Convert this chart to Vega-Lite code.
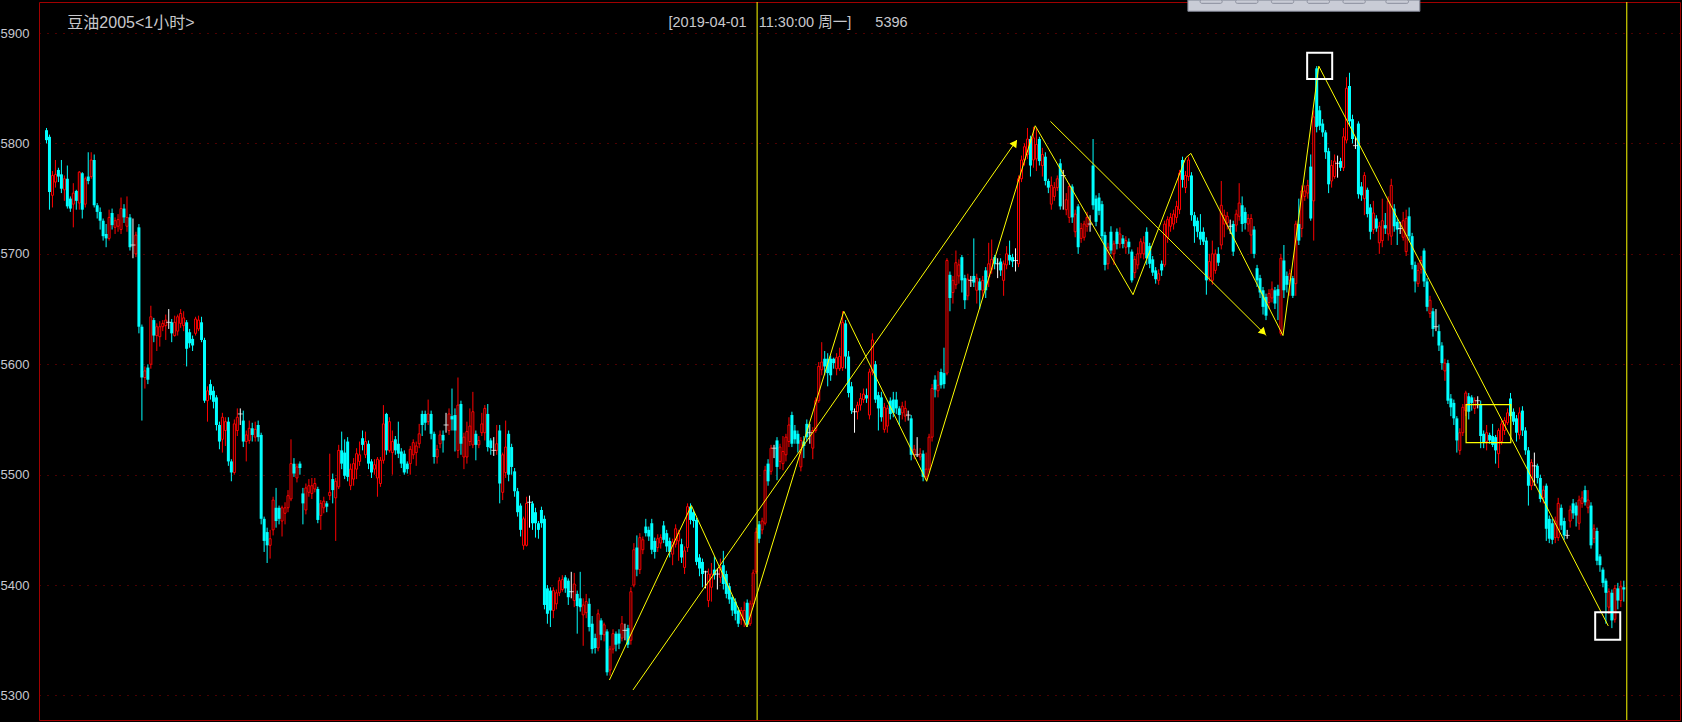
{
"$schema":"https://vega.github.io/schema/vega-lite/v6.json",
"width":1641,"height":718,
"autosize":{"type":"none"},
"padding":{"left":39,"top":2,"right":2,"bottom":2},
"background":"#000000",
"config":{"view":{"stroke":"#a00000","strokeWidth":1}},
"datasets":{
"k":[
{"i":0,"o":5812,"h":5814,"l":5800,"c":5803},{"i":1,"o":5806,"h":5808,"l":5740,"c":5756},{"i":2,"o":5753,"h":5775,"l":5742,"c":5771},{"i":3,"o":5765,"h":5785,"l":5760,"c":5772},{"i":4,"o":5776,"h":5778,"l":5765,"c":5770},{"i":5,"o":5772,"h":5785,"l":5755,"c":5759},{"i":6,"o":5758,"h":5771,"l":5748,"c":5768},{"i":7,"o":5768,"h":5780,"l":5741,"c":5743},{"i":8,"o":5750,"h":5752,"l":5738,"c":5741},{"i":9,"o":5745,"h":5764,"l":5724,"c":5755},
{"i":10,"o":5757,"h":5758,"l":5740,"c":5748},{"i":11,"o":5746,"h":5775,"l":5740,"c":5774},{"i":12,"o":5773,"h":5774,"l":5732,"c":5740},{"i":13,"o":5745,"h":5770,"l":5742,"c":5768},{"i":14,"o":5770,"h":5792,"l":5763,"c":5766},{"i":15,"o":5770,"h":5792,"l":5768,"c":5785},{"i":16,"o":5785,"h":5790,"l":5742,"c":5744},{"i":17,"o":5744,"h":5746,"l":5732,"c":5738},{"i":18,"o":5738,"h":5742,"l":5722,"c":5730},{"i":19,"o":5730,"h":5732,"l":5712,"c":5716},
{"i":20,"o":5718,"h":5727,"l":5706,"c":5714},{"i":21,"o":5714,"h":5740,"l":5712,"c":5733},{"i":22,"o":5737,"h":5741,"l":5722,"c":5726},{"i":23,"o":5724,"h":5733,"l":5718,"c":5730},{"i":24,"o":5725,"h":5736,"l":5720,"c":5731},{"i":25,"o":5722,"h":5751,"l":5718,"c":5741},{"i":26,"o":5741,"h":5745,"l":5728,"c":5733},{"i":27,"o":5725,"h":5752,"l":5720,"c":5733},{"i":28,"o":5733,"h":5736,"l":5703,"c":5706},{"i":29,"o":5708,"h":5732,"l":5696,"c":5708},
{"i":30,"o":5700,"h":5720,"l":5697,"c":5717},{"i":31,"o":5724,"h":5727,"l":5628,"c":5634},{"i":32,"o":5634,"h":5636,"l":5549,"c":5588},{"i":33,"o":5588,"h":5598,"l":5578,"c":5594},{"i":34,"o":5597,"h":5600,"l":5582,"c":5586},{"i":35,"o":5600,"h":5653,"l":5596,"c":5643},{"i":36,"o":5640,"h":5642,"l":5620,"c":5626},{"i":37,"o":5626,"h":5637,"l":5612,"c":5634},{"i":38,"o":5625,"h":5639,"l":5616,"c":5634},{"i":39,"o":5634,"h":5640,"l":5630,"c":5637},
{"i":40,"o":5635,"h":5645,"l":5622,"c":5640},{"i":41,"o":5638,"h":5650,"l":5632,"c":5638},{"i":42,"o":5638,"h":5641,"l":5620,"c":5628},{"i":43,"o":5626,"h":5644,"l":5625,"c":5638},{"i":44,"o":5630,"h":5645,"l":5626,"c":5643},{"i":45,"o":5637,"h":5650,"l":5633,"c":5646},{"i":46,"o":5635,"h":5648,"l":5630,"c":5642},{"i":47,"o":5638,"h":5640,"l":5598,"c":5614},{"i":48,"o":5629,"h":5632,"l":5615,"c":5619},{"i":49,"o":5623,"h":5626,"l":5612,"c":5617},
{"i":50,"o":5628,"h":5643,"l":5626,"c":5641},{"i":51,"o":5632,"h":5644,"l":5630,"c":5640},{"i":52,"o":5638,"h":5643,"l":5620,"c":5622},{"i":53,"o":5622,"h":5624,"l":5565,"c":5567},{"i":54,"o":5567,"h":5580,"l":5548,"c":5576},{"i":55,"o":5582,"h":5586,"l":5568,"c":5572},{"i":56,"o":5576,"h":5580,"l":5560,"c":5566},{"i":57,"o":5570,"h":5572,"l":5540,"c":5545},{"i":58,"o":5545,"h":5548,"l":5523,"c":5530},{"i":59,"o":5532,"h":5556,"l":5520,"c":5552},
{"i":60,"o":5540,"h":5552,"l":5526,"c":5548},{"i":61,"o":5548,"h":5552,"l":5508,"c":5512},{"i":62,"o":5512,"h":5514,"l":5494,"c":5502},{"i":63,"o":5502,"h":5550,"l":5500,"c":5546},{"i":64,"o":5540,"h":5560,"l":5535,"c":5552},{"i":65,"o":5555,"h":5560,"l":5545,"c":5555},{"i":66,"o":5549,"h":5558,"l":5525,"c":5530},{"i":67,"o":5530,"h":5540,"l":5512,"c":5536},{"i":68,"o":5531,"h":5549,"l":5528,"c":5542},{"i":69,"o":5542,"h":5547,"l":5530,"c":5536},
{"i":70,"o":5534,"h":5548,"l":5530,"c":5541},{"i":71,"o":5545,"h":5549,"l":5530,"c":5534},{"i":72,"o":5536,"h":5538,"l":5455,"c":5460},{"i":73,"o":5460,"h":5462,"l":5430,"c":5440},{"i":74,"o":5448,"h":5452,"l":5420,"c":5436},{"i":75,"o":5436,"h":5450,"l":5424,"c":5442},{"i":76,"o":5450,"h":5480,"l":5445,"c":5477},{"i":77,"o":5470,"h":5488,"l":5452,"c":5458},{"i":78,"o":5470,"h":5472,"l":5455,"c":5460},{"i":79,"o":5458,"h":5472,"l":5444,"c":5470},
{"i":80,"o":5465,"h":5475,"l":5455,"c":5470},{"i":81,"o":5470,"h":5486,"l":5466,"c":5481},{"i":82,"o":5478,"h":5532,"l":5476,"c":5510},{"i":83,"o":5510,"h":5515,"l":5498,"c":5501},{"i":84,"o":5497,"h":5510,"l":5493,"c":5507},{"i":85,"o":5510,"h":5512,"l":5500,"c":5506},{"i":86,"o":5483,"h":5488,"l":5455,"c":5474},{"i":87,"o":5468,"h":5492,"l":5464,"c":5488},{"i":88,"o":5484,"h":5496,"l":5480,"c":5490},{"i":89,"o":5483,"h":5497,"l":5478,"c":5490},
{"i":90,"o":5487,"h":5497,"l":5484,"c":5492},{"i":91,"o":5487,"h":5489,"l":5456,"c":5459},{"i":92,"o":5463,"h":5477,"l":5450,"c":5474},{"i":93,"o":5470,"h":5480,"l":5465,"c":5476},{"i":94,"o":5474,"h":5476,"l":5466,"c":5471},{"i":95,"o":5481,"h":5519,"l":5477,"c":5484},{"i":96,"o":5496,"h":5501,"l":5474,"c":5486},{"i":97,"o":5479,"h":5497,"l":5440,"c":5494},{"i":98,"o":5489,"h":5527,"l":5487,"c":5522},{"i":99,"o":5522,"h":5539,"l":5505,"c":5510},
{"i":100,"o":5520,"h":5532,"l":5496,"c":5499},{"i":101,"o":5530,"h":5534,"l":5494,"c":5498},{"i":102,"o":5490,"h":5510,"l":5486,"c":5505},{"i":103,"o":5496,"h":5515,"l":5490,"c":5510},{"i":104,"o":5505,"h":5524,"l":5496,"c":5519},{"i":105,"o":5512,"h":5530,"l":5508,"c":5518},{"i":106,"o":5533,"h":5540,"l":5522,"c":5527},{"i":107,"o":5518,"h":5539,"l":5515,"c":5530},{"i":108,"o":5528,"h":5531,"l":5505,"c":5510},{"i":109,"o":5512,"h":5514,"l":5497,"c":5502},
{"i":110,"o":5505,"h":5514,"l":5500,"c":5509},{"i":111,"o":5497,"h":5516,"l":5480,"c":5514},{"i":112,"o":5492,"h":5516,"l":5489,"c":5513},{"i":113,"o":5513,"h":5563,"l":5510,"c":5546},{"i":114,"o":5555,"h":5556,"l":5518,"c":5522},{"i":115,"o":5522,"h":5552,"l":5520,"c":5548},{"i":116,"o":5520,"h":5540,"l":5500,"c":5530},{"i":117,"o":5532,"h":5535,"l":5518,"c":5522},{"i":118,"o":5528,"h":5548,"l":5515,"c":5519},{"i":119,"o":5521,"h":5524,"l":5506,"c":5510},
{"i":120,"o":5519,"h":5522,"l":5500,"c":5502},{"i":121,"o":5510,"h":5512,"l":5501,"c":5505},{"i":122,"o":5510,"h":5526,"l":5500,"c":5523},{"i":123,"o":5518,"h":5532,"l":5514,"c":5529},{"i":124,"o":5520,"h":5530,"l":5508,"c":5526},{"i":125,"o":5528,"h":5546,"l":5524,"c":5537},{"i":126,"o":5555,"h":5558,"l":5535,"c":5545},{"i":127,"o":5555,"h":5558,"l":5540,"c":5547},{"i":128,"o":5548,"h":5568,"l":5545,"c":5555},{"i":129,"o":5555,"h":5558,"l":5532,"c":5537},
{"i":130,"o":5537,"h":5539,"l":5510,"c":5516},{"i":131,"o":5516,"h":5527,"l":5510,"c":5523},{"i":132,"o":5528,"h":5540,"l":5524,"c":5536},{"i":133,"o":5536,"h":5540,"l":5520,"c":5531},{"i":134,"o":5545,"h":5556,"l":5538,"c":5545},{"i":135,"o":5540,"h":5560,"l":5536,"c":5555},{"i":136,"o":5553,"h":5578,"l":5540,"c":5550},{"i":137,"o":5554,"h":5560,"l":5521,"c":5540},{"i":138,"o":5522,"h":5588,"l":5515,"c":5563},{"i":139,"o":5564,"h":5567,"l":5518,"c":5528},
{"i":140,"o":5516,"h":5538,"l":5505,"c":5534},{"i":141,"o":5516,"h":5548,"l":5510,"c":5539},{"i":142,"o":5530,"h":5560,"l":5526,"c":5544},{"i":143,"o":5527,"h":5575,"l":5524,"c":5557},{"i":144,"o":5537,"h":5540,"l":5513,"c":5527},{"i":145,"o":5527,"h":5535,"l":5524,"c":5531},{"i":146,"o":5538,"h":5556,"l":5535,"c":5546},{"i":147,"o":5538,"h":5563,"l":5531,"c":5560},{"i":148,"o":5555,"h":5564,"l":5521,"c":5525},{"i":149,"o":5531,"h":5533,"l":5518,"c":5524},
{"i":150,"o":5522,"h":5534,"l":5517,"c":5522},{"i":151,"o":5522,"h":5545,"l":5518,"c":5528},{"i":152,"o":5540,"h":5545,"l":5474,"c":5492},{"i":153,"o":5484,"h":5520,"l":5477,"c":5518},{"i":154,"o":5502,"h":5549,"l":5497,"c":5525},{"i":155,"o":5537,"h":5540,"l":5494,"c":5500},{"i":156,"o":5525,"h":5528,"l":5500,"c":5507},{"i":157,"o":5503,"h":5506,"l":5480,"c":5485},{"i":158,"o":5485,"h":5488,"l":5462,"c":5466},{"i":159,"o":5472,"h":5474,"l":5444,"c":5450},
{"i":160,"o":5436,"h":5462,"l":5432,"c":5460},{"i":161,"o":5436,"h":5480,"l":5435,"c":5474},{"i":162,"o":5475,"h":5481,"l":5452,"c":5475},{"i":163,"o":5474,"h":5476,"l":5450,"c":5456},{"i":164,"o":5466,"h":5470,"l":5443,"c":5456},{"i":165,"o":5456,"h":5458,"l":5442,"c":5450},{"i":166,"o":5468,"h":5471,"l":5452,"c":5456},{"i":167,"o":5460,"h":5463,"l":5378,"c":5382},{"i":168,"o":5397,"h":5400,"l":5365,"c":5374},{"i":169,"o":5395,"h":5398,"l":5362,"c":5377},
{"i":170,"o":5377,"h":5398,"l":5370,"c":5395},{"i":171,"o":5383,"h":5396,"l":5378,"c":5393},{"i":172,"o":5393,"h":5407,"l":5390,"c":5404},{"i":173,"o":5396,"h":5409,"l":5394,"c":5405},{"i":174,"o":5407,"h":5409,"l":5393,"c":5397},{"i":175,"o":5404,"h":5406,"l":5382,"c":5389},{"i":176,"o":5394,"h":5412,"l":5388,"c":5394},{"i":177,"o":5386,"h":5411,"l":5380,"c":5401},{"i":178,"o":5392,"h":5395,"l":5356,"c":5381},{"i":179,"o":5388,"h":5412,"l":5376,"c":5380},
{"i":180,"o":5373,"h":5388,"l":5345,"c":5382},{"i":181,"o":5375,"h":5392,"l":5370,"c":5385},{"i":182,"o":5383,"h":5388,"l":5358,"c":5362},{"i":183,"o":5365,"h":5372,"l":5338,"c":5342},{"i":184,"o":5352,"h":5356,"l":5338,"c":5343},{"i":185,"o":5343,"h":5378,"l":5340,"c":5374},{"i":186,"o":5368,"h":5370,"l":5350,"c":5355},{"i":187,"o":5355,"h":5366,"l":5349,"c":5364},{"i":188,"o":5358,"h":5360,"l":5318,"c":5321},{"i":189,"o":5323,"h":5345,"l":5318,"c":5342},
{"i":190,"o":5342,"h":5360,"l":5338,"c":5356},{"i":191,"o":5356,"h":5358,"l":5340,"c":5346},{"i":192,"o":5356,"h":5360,"l":5342,"c":5347},{"i":193,"o":5352,"h":5372,"l":5349,"c":5365},{"i":194,"o":5359,"h":5365,"l":5350,"c":5359},{"i":195,"o":5361,"h":5364,"l":5343,"c":5346},{"i":196,"o":5350,"h":5398,"l":5346,"c":5394},{"i":197,"o":5400,"h":5438,"l":5398,"c":5432},{"i":198,"o":5434,"h":5445,"l":5408,"c":5414},{"i":199,"o":5414,"h":5447,"l":5410,"c":5443},
{"i":200,"o":5432,"h":5444,"l":5428,"c":5441},{"i":201,"o":5453,"h":5460,"l":5444,"c":5447},{"i":202,"o":5450,"h":5453,"l":5440,"c":5444},{"i":203,"o":5456,"h":5460,"l":5428,"c":5432},{"i":204,"o":5440,"h":5443,"l":5424,"c":5430},{"i":205,"o":5434,"h":5446,"l":5430,"c":5442},{"i":206,"o":5438,"h":5446,"l":5433,"c":5443},{"i":207,"o":5454,"h":5458,"l":5438,"c":5441},{"i":208,"o":5447,"h":5450,"l":5430,"c":5435},{"i":209,"o":5440,"h":5443,"l":5425,"c":5430},
{"i":210,"o":5428,"h":5442,"l":5418,"c":5439},{"i":211,"o":5437,"h":5455,"l":5434,"c":5451},{"i":212,"o":5440,"h":5450,"l":5422,"c":5447},{"i":213,"o":5437,"h":5442,"l":5420,"c":5425},{"i":214,"o":5416,"h":5435,"l":5410,"c":5431},{"i":215,"o":5434,"h":5474,"l":5430,"c":5471},{"i":216,"o":5471,"h":5474,"l":5455,"c":5459},{"i":217,"o":5466,"h":5468,"l":5452,"c":5458},{"i":218,"o":5459,"h":5461,"l":5418,"c":5421},{"i":219,"o":5425,"h":5428,"l":5408,"c":5415},
{"i":220,"o":5421,"h":5424,"l":5398,"c":5410},{"i":221,"o":5412,"h":5413,"l":5397,"c":5412},{"i":222,"o":5386,"h":5415,"l":5380,"c":5410},{"i":223,"o":5398,"h":5420,"l":5385,"c":5410},{"i":224,"o":5414,"h":5426,"l":5405,"c":5409},{"i":225,"o":5410,"h":5415,"l":5396,"c":5410},{"i":226,"o":5407,"h":5424,"l":5402,"c":5416},{"i":227,"o":5418,"h":5431,"l":5396,"c":5401},{"i":228,"o":5410,"h":5413,"l":5388,"c":5392},{"i":229,"o":5399,"h":5402,"l":5383,"c":5387},
{"i":230,"o":5389,"h":5391,"l":5372,"c":5377},{"i":231,"o":5385,"h":5388,"l":5368,"c":5374},{"i":232,"o":5377,"h":5380,"l":5362,"c":5365},{"i":233,"o":5369,"h":5380,"l":5364,"c":5377},{"i":234,"o":5368,"h":5385,"l":5362,"c":5377},{"i":235,"o":5384,"h":5387,"l":5362,"c":5364},{"i":236,"o":5365,"h":5386,"l":5363,"c":5383},{"i":237,"o":5383,"h":5414,"l":5380,"c":5411},{"i":238,"o":5412,"h":5452,"l":5410,"c":5448},{"i":239,"o":5455,"h":5458,"l":5438,"c":5442},
{"i":240,"o":5450,"h":5461,"l":5446,"c":5458},{"i":241,"o":5456,"h":5508,"l":5454,"c":5504},{"i":242,"o":5510,"h":5514,"l":5490,"c":5494},{"i":243,"o":5503,"h":5527,"l":5500,"c":5524},{"i":244,"o":5524,"h":5527,"l":5515,"c":5524},{"i":245,"o":5531,"h":5534,"l":5495,"c":5507},{"i":246,"o":5512,"h":5528,"l":5505,"c":5525},{"i":247,"o":5510,"h":5535,"l":5504,"c":5521},{"i":248,"o":5518,"h":5537,"l":5512,"c":5534},{"i":249,"o":5530,"h":5552,"l":5525,"c":5545},
{"i":250,"o":5554,"h":5557,"l":5525,"c":5528},{"i":251,"o":5540,"h":5545,"l":5528,"c":5532},{"i":252,"o":5537,"h":5540,"l":5520,"c":5528},{"i":253,"o":5507,"h":5534,"l":5503,"c":5531},{"i":254,"o":5530,"h":5535,"l":5515,"c":5526},{"i":255,"o":5546,"h":5550,"l":5530,"c":5534},{"i":256,"o":5538,"h":5546,"l":5528,"c":5538},{"i":257,"o":5524,"h":5543,"l":5514,"c":5540},{"i":258,"o":5540,"h":5570,"l":5538,"c":5567},{"i":259,"o":5567,"h":5602,"l":5565,"c":5598},
{"i":260,"o":5595,"h":5620,"l":5590,"c":5602},{"i":261,"o":5605,"h":5612,"l":5590,"c":5598},{"i":262,"o":5605,"h":5610,"l":5580,"c":5592},{"i":263,"o":5605,"h":5608,"l":5585,"c":5590},{"i":264,"o":5605,"h":5606,"l":5596,"c":5601},{"i":265,"o":5596,"h":5610,"l":5590,"c":5606},{"i":266,"o":5596,"h":5615,"l":5594,"c":5607},{"i":267,"o":5597,"h":5648,"l":5594,"c":5638},{"i":268,"o":5637,"h":5640,"l":5596,"c":5607},{"i":269,"o":5607,"h":5612,"l":5570,"c":5574},
{"i":270,"o":5580,"h":5584,"l":5555,"c":5558},{"i":271,"o":5557,"h":5560,"l":5538,"c":5557},{"i":272,"o":5557,"h":5566,"l":5550,"c":5563},{"i":273,"o":5563,"h":5574,"l":5558,"c":5569},{"i":274,"o":5568,"h":5578,"l":5565,"c":5573},{"i":275,"o":5572,"h":5578,"l":5565,"c":5569},{"i":276,"o":5554,"h":5596,"l":5550,"c":5593},{"i":277,"o":5593,"h":5628,"l":5590,"c":5622},{"i":278,"o":5600,"h":5603,"l":5565,"c":5568},{"i":279,"o":5572,"h":5575,"l":5540,"c":5560},
{"i":280,"o":5570,"h":5575,"l":5548,"c":5552},{"i":281,"o":5541,"h":5565,"l":5538,"c":5561},{"i":282,"o":5544,"h":5563,"l":5538,"c":5560},{"i":283,"o":5567,"h":5570,"l":5550,"c":5555},{"i":284,"o":5568,"h":5575,"l":5552,"c":5556},{"i":285,"o":5568,"h":5575,"l":5555,"c":5560},{"i":286,"o":5560,"h":5562,"l":5545,"c":5554},{"i":287,"o":5556,"h":5566,"l":5550,"c":5562},{"i":288,"o":5553,"h":5567,"l":5548,"c":5560},{"i":289,"o":5554,"h":5558,"l":5549,"c":5554},
{"i":290,"o":5551,"h":5554,"l":5513,"c":5518},{"i":291,"o":5518,"h":5527,"l":5514,"c":5523},{"i":292,"o":5518,"h":5534,"l":5516,"c":5518},{"i":293,"o":5516,"h":5524,"l":5513,"c":5519},{"i":294,"o":5519,"h":5522,"l":5494,"c":5498},{"i":295,"o":5498,"h":5520,"l":5495,"c":5505},{"i":296,"o":5505,"h":5537,"l":5502,"c":5534},{"i":297,"o":5534,"h":5582,"l":5530,"c":5578},{"i":298,"o":5586,"h":5590,"l":5570,"c":5577},{"i":299,"o":5576,"h":5594,"l":5570,"c":5581},
{"i":300,"o":5593,"h":5596,"l":5578,"c":5581},{"i":301,"o":5592,"h":5615,"l":5578,"c":5582},{"i":302,"o":5592,"h":5696,"l":5590,"c":5694},{"i":303,"o":5681,"h":5684,"l":5648,"c":5660},{"i":304,"o":5665,"h":5680,"l":5655,"c":5676},{"i":305,"o":5672,"h":5703,"l":5668,"c":5692},{"i":306,"o":5680,"h":5695,"l":5673,"c":5690},{"i":307,"o":5697,"h":5699,"l":5665,"c":5676},{"i":308,"o":5678,"h":5681,"l":5650,"c":5658},{"i":309,"o":5662,"h":5682,"l":5658,"c":5677},
{"i":310,"o":5676,"h":5680,"l":5670,"c":5676},{"i":311,"o":5680,"h":5714,"l":5670,"c":5674},{"i":312,"o":5667,"h":5682,"l":5655,"c":5678},{"i":313,"o":5675,"h":5678,"l":5650,"c":5667},{"i":314,"o":5667,"h":5680,"l":5660,"c":5676},{"i":315,"o":5685,"h":5688,"l":5660,"c":5667},{"i":316,"o":5679,"h":5710,"l":5670,"c":5691},{"i":317,"o":5686,"h":5713,"l":5682,"c":5695},{"i":318,"o":5697,"h":5699,"l":5686,"c":5691},{"i":319,"o":5691,"h":5696,"l":5678,"c":5691},
{"i":320,"o":5693,"h":5696,"l":5680,"c":5685},{"i":321,"o":5676,"h":5694,"l":5662,"c":5691},{"i":322,"o":5690,"h":5707,"l":5686,"c":5700},{"i":323,"o":5699,"h":5712,"l":5690,"c":5694},{"i":324,"o":5697,"h":5700,"l":5688,"c":5693},{"i":325,"o":5694,"h":5705,"l":5684,"c":5694},{"i":326,"o":5691,"h":5771,"l":5688,"c":5768},{"i":327,"o":5768,"h":5789,"l":5765,"c":5785},{"i":328,"o":5785,"h":5800,"l":5780,"c":5797},{"i":329,"o":5790,"h":5814,"l":5786,"c":5804},
{"i":330,"o":5804,"h":5807,"l":5770,"c":5780},{"i":331,"o":5785,"h":5815,"l":5778,"c":5805},{"i":332,"o":5786,"h":5814,"l":5775,"c":5799},{"i":333,"o":5804,"h":5806,"l":5780,"c":5784},{"i":334,"o":5780,"h":5796,"l":5770,"c":5790},{"i":335,"o":5788,"h":5792,"l":5762,"c":5766},{"i":336,"o":5766,"h":5768,"l":5755,"c":5760},{"i":337,"o":5745,"h":5770,"l":5740,"c":5762},{"i":338,"o":5752,"h":5765,"l":5748,"c":5760},{"i":339,"o":5760,"h":5771,"l":5757,"c":5768},
{"i":340,"o":5782,"h":5786,"l":5740,"c":5743},{"i":341,"o":5771,"h":5776,"l":5740,"c":5771},{"i":342,"o":5740,"h":5755,"l":5735,"c":5749},{"i":343,"o":5733,"h":5764,"l":5728,"c":5761},{"i":344,"o":5761,"h":5763,"l":5728,"c":5733},{"i":345,"o":5720,"h":5740,"l":5715,"c":5736},{"i":346,"o":5743,"h":5745,"l":5700,"c":5706},{"i":347,"o":5714,"h":5728,"l":5710,"c":5723},{"i":348,"o":5715,"h":5730,"l":5712,"c":5727},{"i":349,"o":5725,"h":5738,"l":5720,"c":5733},
{"i":350,"o":5727,"h":5735,"l":5720,"c":5727},{"i":351,"o":5780,"h":5804,"l":5740,"c":5744},{"i":352,"o":5750,"h":5753,"l":5725,"c":5729},{"i":353,"o":5751,"h":5755,"l":5735,"c":5739},{"i":354,"o":5745,"h":5748,"l":5712,"c":5716},{"i":355,"o":5717,"h":5720,"l":5685,"c":5690},{"i":356,"o":5691,"h":5710,"l":5686,"c":5706},{"i":357,"o":5720,"h":5725,"l":5700,"c":5703},{"i":358,"o":5700,"h":5712,"l":5690,"c":5709},{"i":359,"o":5720,"h":5723,"l":5704,"c":5709},
{"i":360,"o":5709,"h":5724,"l":5705,"c":5718},{"i":361,"o":5714,"h":5717,"l":5705,"c":5709},{"i":362,"o":5706,"h":5716,"l":5700,"c":5712},{"i":363,"o":5711,"h":5714,"l":5700,"c":5706},{"i":364,"o":5702,"h":5704,"l":5674,"c":5676},{"i":365,"o":5683,"h":5698,"l":5678,"c":5695},{"i":366,"o":5690,"h":5706,"l":5686,"c":5700},{"i":367,"o":5700,"h":5714,"l":5696,"c":5711},{"i":368,"o":5700,"h":5716,"l":5695,"c":5710},{"i":369,"o":5720,"h":5724,"l":5690,"c":5696},
{"i":370,"o":5707,"h":5710,"l":5687,"c":5691},{"i":371,"o":5695,"h":5698,"l":5680,"c":5683},{"i":372,"o":5685,"h":5688,"l":5673,"c":5677},{"i":373,"o":5676,"h":5686,"l":5672,"c":5682},{"i":374,"o":5691,"h":5694,"l":5680,"c":5685},{"i":375,"o":5690,"h":5730,"l":5688,"c":5727},{"i":376,"o":5715,"h":5734,"l":5710,"c":5731},{"i":377,"o":5725,"h":5737,"l":5720,"c":5733},{"i":378,"o":5727,"h":5740,"l":5722,"c":5736},{"i":379,"o":5733,"h":5748,"l":5728,"c":5743},
{"i":380,"o":5740,"h":5776,"l":5736,"c":5773},{"i":381,"o":5785,"h":5788,"l":5760,"c":5767},{"i":382,"o":5760,"h":5775,"l":5755,"c":5771},{"i":383,"o":5770,"h":5788,"l":5766,"c":5785},{"i":384,"o":5771,"h":5774,"l":5730,"c":5735},{"i":385,"o":5735,"h":5738,"l":5710,"c":5725},{"i":386,"o":5730,"h":5733,"l":5715,"c":5720},{"i":387,"o":5720,"h":5736,"l":5708,"c":5713},{"i":388,"o":5720,"h":5724,"l":5708,"c":5711},{"i":389,"o":5712,"h":5715,"l":5663,"c":5676},
{"i":390,"o":5679,"h":5700,"l":5675,"c":5693},{"i":391,"o":5676,"h":5712,"l":5672,"c":5700},{"i":392,"o":5685,"h":5704,"l":5682,"c":5700},{"i":393,"o":5700,"h":5706,"l":5689,"c":5692},{"i":394,"o":5708,"h":5766,"l":5704,"c":5744},{"i":395,"o":5727,"h":5740,"l":5715,"c":5735},{"i":396,"o":5728,"h":5738,"l":5722,"c":5734},{"i":397,"o":5725,"h":5731,"l":5718,"c":5725},{"i":398,"o":5727,"h":5730,"l":5698,"c":5702},{"i":399,"o":5726,"h":5740,"l":5720,"c":5736},
{"i":400,"o":5734,"h":5764,"l":5730,"c":5746},{"i":401,"o":5744,"h":5752,"l":5720,"c":5727},{"i":402,"o":5738,"h":5742,"l":5722,"c":5728},{"i":403,"o":5727,"h":5736,"l":5720,"c":5732},{"i":404,"o":5717,"h":5736,"l":5700,"c":5732},{"i":405,"o":5722,"h":5725,"l":5696,"c":5700},{"i":406,"o":5687,"h":5690,"l":5670,"c":5676},{"i":407,"o":5678,"h":5681,"l":5660,"c":5665},{"i":408,"o":5667,"h":5670,"l":5645,"c":5652},{"i":409,"o":5661,"h":5664,"l":5640,"c":5644},
{"i":410,"o":5656,"h":5668,"l":5650,"c":5664},{"i":411,"o":5660,"h":5675,"l":5656,"c":5668},{"i":412,"o":5667,"h":5670,"l":5650,"c":5655},{"i":413,"o":5668,"h":5672,"l":5640,"c":5662},{"i":414,"o":5628,"h":5700,"l":5626,"c":5696},{"i":415,"o":5694,"h":5708,"l":5660,"c":5667},{"i":416,"o":5680,"h":5684,"l":5665,"c":5672},{"i":417,"o":5676,"h":5686,"l":5662,"c":5682},{"i":418,"o":5678,"h":5680,"l":5660,"c":5662},{"i":419,"o":5673,"h":5730,"l":5662,"c":5727},
{"i":420,"o":5727,"h":5750,"l":5708,"c":5712},{"i":421,"o":5723,"h":5762,"l":5715,"c":5757},{"i":422,"o":5752,"h":5762,"l":5748,"c":5757},{"i":423,"o":5755,"h":5767,"l":5750,"c":5762},{"i":424,"o":5779,"h":5790,"l":5730,"c":5732},{"i":425,"o":5748,"h":5830,"l":5712,"c":5824},{"i":426,"o":5868,"h":5870,"l":5810,"c":5815},{"i":427,"o":5830,"h":5834,"l":5812,"c":5816},{"i":428,"o":5818,"h":5822,"l":5806,"c":5810},{"i":429,"o":5810,"h":5812,"l":5786,"c":5792},
{"i":430,"o":5793,"h":5796,"l":5755,"c":5763},{"i":431,"o":5766,"h":5785,"l":5760,"c":5780},{"i":432,"o":5770,"h":5790,"l":5768,"c":5784},{"i":433,"o":5782,"h":5789,"l":5769,"c":5782},{"i":434,"o":5784,"h":5787,"l":5775,"c":5778},{"i":435,"o":5778,"h":5814,"l":5775,"c":5806},{"i":436,"o":5803,"h":5860,"l":5800,"c":5850},{"i":437,"o":5852,"h":5864,"l":5816,"c":5820},{"i":438,"o":5822,"h":5826,"l":5800,"c":5804},{"i":439,"o":5798,"h":5806,"l":5795,"c":5798},
{"i":440,"o":5818,"h":5820,"l":5750,"c":5754},{"i":441,"o":5761,"h":5765,"l":5748,"c":5753},{"i":442,"o":5750,"h":5774,"l":5735,"c":5771},{"i":443,"o":5758,"h":5760,"l":5733,"c":5736},{"i":444,"o":5742,"h":5745,"l":5713,"c":5720},{"i":445,"o":5722,"h":5748,"l":5718,"c":5737},{"i":446,"o":5732,"h":5735,"l":5720,"c":5723},{"i":447,"o":5710,"h":5729,"l":5700,"c":5725},{"i":448,"o":5712,"h":5750,"l":5706,"c":5730},{"i":449,"o":5726,"h":5737,"l":5718,"c":5723},
{"i":450,"o":5718,"h":5752,"l":5712,"c":5748},{"i":451,"o":5716,"h":5768,"l":5708,"c":5762},{"i":452,"o":5741,"h":5745,"l":5720,"c":5725},{"i":453,"o":5729,"h":5732,"l":5708,"c":5722},{"i":454,"o":5723,"h":5729,"l":5718,"c":5723},{"i":455,"o":5715,"h":5738,"l":5712,"c":5730},{"i":456,"o":5702,"h":5740,"l":5698,"c":5732},{"i":457,"o":5734,"h":5742,"l":5712,"c":5716},{"i":458,"o":5716,"h":5719,"l":5686,"c":5690},{"i":459,"o":5690,"h":5693,"l":5665,"c":5675},
{"i":460,"o":5673,"h":5692,"l":5670,"c":5685},{"i":461,"o":5686,"h":5698,"l":5682,"c":5694},{"i":462,"o":5703,"h":5705,"l":5670,"c":5675},{"i":463,"o":5675,"h":5678,"l":5648,"c":5652},{"i":464,"o":5646,"h":5662,"l":5642,"c":5658},{"i":465,"o":5648,"h":5651,"l":5625,"c":5632},{"i":466,"o":5634,"h":5650,"l":5630,"c":5634},{"i":467,"o":5630,"h":5636,"l":5612,"c":5617},{"i":468,"o":5617,"h":5620,"l":5595,"c":5601},{"i":469,"o":5594,"h":5605,"l":5585,"c":5601},
{"i":470,"o":5601,"h":5604,"l":5564,"c":5567},{"i":471,"o":5569,"h":5573,"l":5553,"c":5561},{"i":472,"o":5565,"h":5568,"l":5545,"c":5551},{"i":473,"o":5551,"h":5553,"l":5520,"c":5531},{"i":474,"o":5522,"h":5542,"l":5518,"c":5538},{"i":475,"o":5538,"h":5564,"l":5535,"c":5561},{"i":476,"o":5558,"h":5576,"l":5553,"c":5574},{"i":477,"o":5571,"h":5574,"l":5550,"c":5557},{"i":478,"o":5570,"h":5572,"l":5558,"c":5565},{"i":479,"o":5560,"h":5570,"l":5555,"c":5567},
{"i":480,"o":5567,"h":5571,"l":5560,"c":5567},{"i":481,"o":5564,"h":5567,"l":5524,"c":5535},{"i":482,"o":5537,"h":5540,"l":5524,"c":5529},{"i":483,"o":5530,"h":5545,"l":5522,"c":5538},{"i":484,"o":5536,"h":5538,"l":5528,"c":5531},{"i":485,"o":5535,"h":5546,"l":5525,"c":5527},{"i":486,"o":5534,"h":5536,"l":5510,"c":5522},{"i":487,"o":5519,"h":5542,"l":5506,"c":5540},{"i":488,"o":5530,"h":5549,"l":5527,"c":5546},{"i":489,"o":5540,"h":5552,"l":5536,"c":5549},
{"i":490,"o":5547,"h":5560,"l":5545,"c":5556},{"i":491,"o":5569,"h":5574,"l":5550,"c":5553},{"i":492,"o":5557,"h":5560,"l":5545,"c":5548},{"i":493,"o":5551,"h":5554,"l":5530,"c":5538},{"i":494,"o":5536,"h":5561,"l":5532,"c":5556},{"i":495,"o":5558,"h":5562,"l":5535,"c":5540},{"i":496,"o":5540,"h":5543,"l":5518,"c":5522},{"i":497,"o":5522,"h":5525,"l":5472,"c":5490},{"i":498,"o":5490,"h":5514,"l":5486,"c":5511},{"i":499,"o":5508,"h":5520,"l":5490,"c":5508},
{"i":500,"o":5508,"h":5510,"l":5492,"c":5497},{"i":501,"o":5497,"h":5500,"l":5475,"c":5478},{"i":502,"o":5479,"h":5490,"l":5474,"c":5486},{"i":503,"o":5490,"h":5492,"l":5440,"c":5451},{"i":504,"o":5460,"h":5463,"l":5438,"c":5442},{"i":505,"o":5456,"h":5460,"l":5437,"c":5441},{"i":506,"o":5443,"h":5462,"l":5438,"c":5458},{"i":507,"o":5443,"h":5479,"l":5440,"c":5474},{"i":508,"o":5470,"h":5473,"l":5450,"c":5454},{"i":509,"o":5458,"h":5461,"l":5441,"c":5445},
{"i":510,"o":5445,"h":5450,"l":5442,"c":5445},{"i":511,"o":5458,"h":5472,"l":5452,"c":5468},{"i":512,"o":5474,"h":5478,"l":5460,"c":5465},{"i":513,"o":5472,"h":5475,"l":5453,"c":5463},{"i":514,"o":5456,"h":5481,"l":5450,"c":5477},{"i":515,"o":5474,"h":5485,"l":5470,"c":5479},{"i":516,"o":5486,"h":5490,"l":5472,"c":5475},{"i":517,"o":5470,"h":5486,"l":5465,"c":5477},{"i":518,"o":5472,"h":5475,"l":5433,"c":5436},{"i":519,"o":5442,"h":5455,"l":5438,"c":5451},
{"i":520,"o":5449,"h":5452,"l":5418,"c":5422},{"i":521,"o":5426,"h":5428,"l":5412,"c":5418},{"i":522,"o":5414,"h":5416,"l":5398,"c":5402},{"i":523,"o":5404,"h":5406,"l":5365,"c":5393},{"i":524,"o":5380,"h":5397,"l":5374,"c":5394},{"i":525,"o":5393,"h":5396,"l":5361,"c":5368},{"i":526,"o":5369,"h":5400,"l":5366,"c":5397},{"i":527,"o":5397,"h":5402,"l":5378,"c":5386},{"i":528,"o":5386,"h":5404,"l":5380,"c":5399},{"i":529,"o":5398,"h":5404,"l":5385,"c":5396}
],
"tl":[
{"id":"A","s":0,"i":188.8,"p":5314},{"id":"A","s":1,"i":216.3,"p":5472},{"id":"A","s":2,"i":234.9,"p":5362},{"id":"A","s":3,"i":267.4,"p":5648},{"id":"A","s":4,"i":295.2,"p":5494},{"id":"A","s":5,"i":331.6,"p":5816},{"id":"A","s":6,"i":364.4,"p":5663},{"id":"A","s":7,"i":382.1,"p":5787},{"id":"A","s":8,"i":383.8,"p":5791},{"id":"A","s":9,"i":414.7,"p":5626},{"id":"A","s":10,"i":426.7,"p":5870},{"id":"A","s":11,"i":523.8,"p":5363},
{"id":"B","s":0,"i":196.7,"p":5305},{"id":"B","s":1,"i":325.4,"p":5803},
{"id":"C","s":0,"i":336.7,"p":5820},{"id":"C","s":1,"i":409.1,"p":5626}
],
"ar":[{"id":"B","i":324.8,"p":5800.5},{"id":"C","i":408.1,"p":5629}],
"vl":[{"i":238.33},{"i":530}],
"bx":[{"k":"w","i":422.8,"i2":431.2,"p":5858.4,"p2":5882.1},{"k":"w","i":519.4,"i2":527.8,"p":5350.4,"p2":5375.5},{"k":"y","i":476.1,"i2":491.1,"p":5529,"p2":5563.4}],
"ui":[{"k":"panel","i":382.8,"i2":460.6,"p":5919.7,"p2":5929.9},{"k":"btn","i":386.9,"i2":394.3,"p":5926.9,"p2":5930},{"k":"btn","i":398.8,"i2":406.3,"p":5926.9,"p2":5930},{"k":"btn","i":410.8,"i2":418.3,"p":5926.9,"p2":5930},{"k":"btn","i":422.8,"i2":430.3,"p":5926.9,"p2":5930},{"k":"btn","i":434.8,"i2":442.3,"p":5926.9,"p2":5930},{"k":"btn","i":449.2,"i2":456.8,"p":5926.9,"p2":5930}],
"tx":[{"k":"a","i":7,"p":5909.5,"t":"豆油2005<1小时>"},{"k":"b","i":208.6,"p":5909.5,"t":"[2019-04-01\u00a0\u00a0\u00a011:30:00\u00a0周一]\u00a0\u00a0\u00a0\u00a0\u00a0\u00a05396"}]
},
"layer":[
{"data":{"name":"k"},"mark":{"type":"rule","strokeWidth":1},
"encoding":{
"x":{"field":"i","type":"quantitative","scale":{"domain":[-0.8333,546.1667],"nice":false,"zero":false},"axis":null},
"y":{"field":"l","type":"quantitative","scale":{"domain":[5277.8,5928.1],"nice":false,"zero":false},
"axis":{"title":null,"format":"d","values":[5300,5400,5500,5600,5700,5800,5900],"grid":true,"gridColor":"#990000","gridDash":[1,7],"gridWidth":1,"gridOpacity":1,"domain":false,"ticks":false,"labelColor":"#c8c8d0","labelFont":"Liberation Sans","labelFontSize":13,"labelPadding":10,"labelFlush":false}},
"y2":{"field":"h"},
"color":{"condition":[{"test":"datum.c > datum.o","value":"#ff0000"},{"test":"datum.c < datum.o","value":"#00ffff"}],"value":"#ffffff"}}},
{"data":{"name":"k"},"transform":[{"filter":"datum.c > datum.o"}],
"mark":{"type":"bar","size":2,"fill":"#000000","stroke":"#ff0000","strokeWidth":1},
"encoding":{
"x":{"field":"i","type":"quantitative","scale":{"domain":[-0.8333,546.1667],"nice":false,"zero":false},"axis":null},
"y":{"field":"o","type":"quantitative","scale":{"domain":[5277.8,5928.1],"nice":false,"zero":false},
"axis":{"title":null,"format":"d","values":[5300,5400,5500,5600,5700,5800,5900],"grid":true,"gridColor":"#990000","gridDash":[1,7],"gridWidth":1,"gridOpacity":1,"domain":false,"ticks":false,"labelColor":"#c8c8d0","labelFont":"Liberation Sans","labelFontSize":13,"labelPadding":10,"labelFlush":false}},
"y2":{"field":"c"}}},
{"data":{"name":"k"},"transform":[{"filter":"datum.c < datum.o"}],
"mark":{"type":"bar","size":3,"color":"#00ffff"},
"encoding":{
"x":{"field":"i","type":"quantitative","scale":{"domain":[-0.8333,546.1667],"nice":false,"zero":false},"axis":null},
"y":{"field":"o","type":"quantitative","scale":{"domain":[5277.8,5928.1],"nice":false,"zero":false},
"axis":{"title":null,"format":"d","values":[5300,5400,5500,5600,5700,5800,5900],"grid":true,"gridColor":"#990000","gridDash":[1,7],"gridWidth":1,"gridOpacity":1,"domain":false,"ticks":false,"labelColor":"#c8c8d0","labelFont":"Liberation Sans","labelFontSize":13,"labelPadding":10,"labelFlush":false}},
"y2":{"field":"c"}}},
{"data":{"name":"k"},"transform":[{"filter":"datum.c == datum.o"}],
"mark":{"type":"tick","orient":"horizontal","size":5,"thickness":1,"color":"#ffffff"},
"encoding":{
"x":{"field":"i","type":"quantitative","scale":{"domain":[-0.8333,546.1667],"nice":false,"zero":false},"axis":null},
"y":{"field":"o","type":"quantitative","scale":{"domain":[5277.8,5928.1],"nice":false,"zero":false},
"axis":{"title":null,"format":"d","values":[5300,5400,5500,5600,5700,5800,5900],"grid":true,"gridColor":"#990000","gridDash":[1,7],"gridWidth":1,"gridOpacity":1,"domain":false,"ticks":false,"labelColor":"#c8c8d0","labelFont":"Liberation Sans","labelFontSize":13,"labelPadding":10,"labelFlush":false}}}},
{"data":{"name":"tl"},"mark":{"type":"line","color":"#ffff00","strokeWidth":1},
"encoding":{
"x":{"field":"i","type":"quantitative","scale":{"domain":[-0.8333,546.1667],"nice":false,"zero":false},"axis":null},
"y":{"field":"p","type":"quantitative","scale":{"domain":[5277.8,5928.1],"nice":false,"zero":false},
"axis":{"title":null,"format":"d","values":[5300,5400,5500,5600,5700,5800,5900],"grid":true,"gridColor":"#990000","gridDash":[1,7],"gridWidth":1,"gridOpacity":1,"domain":false,"ticks":false,"labelColor":"#c8c8d0","labelFont":"Liberation Sans","labelFontSize":13,"labelPadding":10,"labelFlush":false}},
"detail":{"field":"id"},"order":{"field":"s","type":"quantitative"}}},
{"data":{"name":"ar"},"transform":[{"filter":"datum.id == 'B'"}],
"mark":{"type":"point","shape":"triangle-up","filled":true,"color":"#ffff00","size":70,"angle":35,"opacity":1},
"encoding":{
"x":{"field":"i","type":"quantitative","scale":{"domain":[-0.8333,546.1667],"nice":false,"zero":false},"axis":null},
"y":{"field":"p","type":"quantitative","scale":{"domain":[5277.8,5928.1],"nice":false,"zero":false},
"axis":{"title":null,"format":"d","values":[5300,5400,5500,5600,5700,5800,5900],"grid":true,"gridColor":"#990000","gridDash":[1,7],"gridWidth":1,"gridOpacity":1,"domain":false,"ticks":false,"labelColor":"#c8c8d0","labelFont":"Liberation Sans","labelFontSize":13,"labelPadding":10,"labelFlush":false}}}},
{"data":{"name":"ar"},"transform":[{"filter":"datum.id == 'C'"}],
"mark":{"type":"point","shape":"triangle-up","filled":true,"color":"#ffff00","size":70,"angle":135,"opacity":1},
"encoding":{
"x":{"field":"i","type":"quantitative","scale":{"domain":[-0.8333,546.1667],"nice":false,"zero":false},"axis":null},
"y":{"field":"p","type":"quantitative","scale":{"domain":[5277.8,5928.1],"nice":false,"zero":false},
"axis":{"title":null,"format":"d","values":[5300,5400,5500,5600,5700,5800,5900],"grid":true,"gridColor":"#990000","gridDash":[1,7],"gridWidth":1,"gridOpacity":1,"domain":false,"ticks":false,"labelColor":"#c8c8d0","labelFont":"Liberation Sans","labelFontSize":13,"labelPadding":10,"labelFlush":false}}}},
{"data":{"name":"bx"},"transform":[{"filter":"datum.k == 'w'"}],
"mark":{"type":"rect","fill":null,"fillOpacity":0,"stroke":"#ffffff","strokeWidth":2},
"encoding":{
"x":{"field":"i","type":"quantitative","scale":{"domain":[-0.8333,546.1667],"nice":false,"zero":false},"axis":null},
"x2":{"field":"i2"},
"y":{"field":"p","type":"quantitative","scale":{"domain":[5277.8,5928.1],"nice":false,"zero":false},
"axis":{"title":null,"format":"d","values":[5300,5400,5500,5600,5700,5800,5900],"grid":true,"gridColor":"#990000","gridDash":[1,7],"gridWidth":1,"gridOpacity":1,"domain":false,"ticks":false,"labelColor":"#c8c8d0","labelFont":"Liberation Sans","labelFontSize":13,"labelPadding":10,"labelFlush":false}},
"y2":{"field":"p2"}}},
{"data":{"name":"bx"},"transform":[{"filter":"datum.k == 'y'"}],
"mark":{"type":"rect","fill":null,"fillOpacity":0,"stroke":"#ffff00","strokeWidth":1.2},
"encoding":{
"x":{"field":"i","type":"quantitative","scale":{"domain":[-0.8333,546.1667],"nice":false,"zero":false},"axis":null},
"x2":{"field":"i2"},
"y":{"field":"p","type":"quantitative","scale":{"domain":[5277.8,5928.1],"nice":false,"zero":false},
"axis":{"title":null,"format":"d","values":[5300,5400,5500,5600,5700,5800,5900],"grid":true,"gridColor":"#990000","gridDash":[1,7],"gridWidth":1,"gridOpacity":1,"domain":false,"ticks":false,"labelColor":"#c8c8d0","labelFont":"Liberation Sans","labelFontSize":13,"labelPadding":10,"labelFlush":false}},
"y2":{"field":"p2"}}},
{"data":{"name":"vl"},"mark":{"type":"rule","color":"#ffff00","strokeWidth":1},
"encoding":{
"x":{"field":"i","type":"quantitative","scale":{"domain":[-0.8333,546.1667],"nice":false,"zero":false},"axis":null}}},
{"data":{"name":"ui"},"transform":[{"filter":"datum.k == 'panel'"}],
"mark":{"type":"rect","fill":"#c9ccd6","stroke":"#7d8190","strokeWidth":1},
"encoding":{
"x":{"field":"i","type":"quantitative","scale":{"domain":[-0.8333,546.1667],"nice":false,"zero":false},"axis":null},
"x2":{"field":"i2"},
"y":{"field":"p","type":"quantitative","scale":{"domain":[5277.8,5928.1],"nice":false,"zero":false},
"axis":{"title":null,"format":"d","values":[5300,5400,5500,5600,5700,5800,5900],"grid":true,"gridColor":"#990000","gridDash":[1,7],"gridWidth":1,"gridOpacity":1,"domain":false,"ticks":false,"labelColor":"#c8c8d0","labelFont":"Liberation Sans","labelFontSize":13,"labelPadding":10,"labelFlush":false}},
"y2":{"field":"p2"}}},
{"data":{"name":"ui"},"transform":[{"filter":"datum.k == 'btn'"}],
"mark":{"type":"rect","fill":"#c9ccd6","stroke":"#8a8e9c","strokeWidth":1,"cornerRadius":2},
"encoding":{
"x":{"field":"i","type":"quantitative","scale":{"domain":[-0.8333,546.1667],"nice":false,"zero":false},"axis":null},
"x2":{"field":"i2"},
"y":{"field":"p","type":"quantitative","scale":{"domain":[5277.8,5928.1],"nice":false,"zero":false},
"axis":{"title":null,"format":"d","values":[5300,5400,5500,5600,5700,5800,5900],"grid":true,"gridColor":"#990000","gridDash":[1,7],"gridWidth":1,"gridOpacity":1,"domain":false,"ticks":false,"labelColor":"#c8c8d0","labelFont":"Liberation Sans","labelFontSize":13,"labelPadding":10,"labelFlush":false}},
"y2":{"field":"p2"}}},
{"data":{"name":"tx"},"transform":[{"filter":"datum.k == 'a'"}],
"mark":{"type":"text","align":"left","baseline":"middle","fontSize":16,"font":"Liberation Sans, Noto Sans CJK SC","color":"#c8c8cc"},
"encoding":{
"x":{"field":"i","type":"quantitative","scale":{"domain":[-0.8333,546.1667],"nice":false,"zero":false},"axis":null},
"y":{"field":"p","type":"quantitative","scale":{"domain":[5277.8,5928.1],"nice":false,"zero":false},
"axis":{"title":null,"format":"d","values":[5300,5400,5500,5600,5700,5800,5900],"grid":true,"gridColor":"#990000","gridDash":[1,7],"gridWidth":1,"gridOpacity":1,"domain":false,"ticks":false,"labelColor":"#c8c8d0","labelFont":"Liberation Sans","labelFontSize":13,"labelPadding":10,"labelFlush":false}},
"text":{"field":"t"}}},
{"data":{"name":"tx"},"transform":[{"filter":"datum.k == 'b'"}],
"mark":{"type":"text","align":"left","baseline":"middle","fontSize":14.5,"font":"Liberation Sans, Noto Sans CJK SC","color":"#c8c8cc"},
"encoding":{
"x":{"field":"i","type":"quantitative","scale":{"domain":[-0.8333,546.1667],"nice":false,"zero":false},"axis":null},
"y":{"field":"p","type":"quantitative","scale":{"domain":[5277.8,5928.1],"nice":false,"zero":false},
"axis":{"title":null,"format":"d","values":[5300,5400,5500,5600,5700,5800,5900],"grid":true,"gridColor":"#990000","gridDash":[1,7],"gridWidth":1,"gridOpacity":1,"domain":false,"ticks":false,"labelColor":"#c8c8d0","labelFont":"Liberation Sans","labelFontSize":13,"labelPadding":10,"labelFlush":false}},
"text":{"field":"t"}}}
]
}
